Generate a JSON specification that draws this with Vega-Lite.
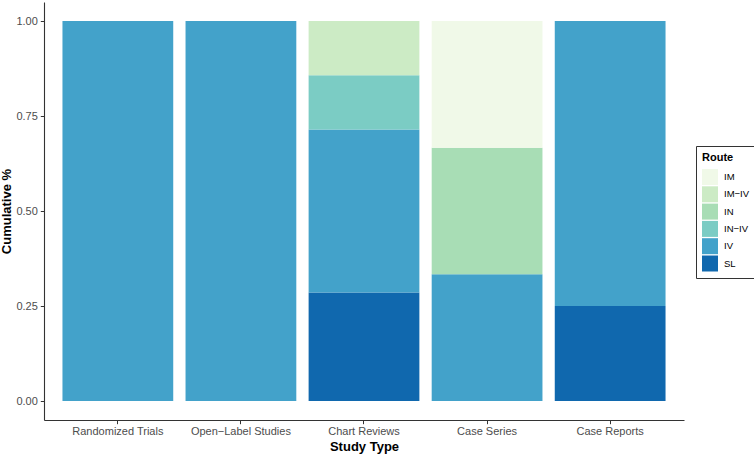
{
  "$schema": "https://vega.github.io/schema/vega-lite/v6.json",
  "autosize": {"type": "none"},
  "width": 640,
  "height": 418,
  "padding": {"left": 44, "top": 2, "right": 70, "bottom": 38},
  "config": {
    "font": "Liberation Sans",
    "view": {"stroke": null},
    "axis": {
      "grid": false,
      "domainColor": "#333333",
      "domainWidth": 1.1,
      "tickColor": "#333333",
      "tickSize": 3.7,
      "labelColor": "#4d4d4d",
      "labelFontSize": 11,
      "titleFontSize": 13,
      "titleFontWeight": "bold",
      "titleColor": "#000000"
    }
  },
  "data": {
    "values": [
      {"study": "Randomized Trials", "Route": "IV", "share": 1},
      {"study": "Open-Label Studies", "Route": "IV", "share": 1},
      {"study": "Chart Reviews", "Route": "SL", "share": 0.2857},
      {"study": "Chart Reviews", "Route": "IV", "share": 0.4286},
      {"study": "Chart Reviews", "Route": "IN-IV", "share": 0.1429},
      {"study": "Chart Reviews", "Route": "IM-IV", "share": 0.1428},
      {"study": "Case Series", "Route": "IV", "share": 0.3333},
      {"study": "Case Series", "Route": "IN", "share": 0.3333},
      {"study": "Case Series", "Route": "IM", "share": 0.3334},
      {"study": "Case Reports", "Route": "SL", "share": 0.25},
      {"study": "Case Reports", "Route": "IV", "share": 0.75}
    ]
  },
  "mark": {"type": "bar"},
  "encoding": {
    "x": {
      "field": "study",
      "type": "nominal",
      "title": "Study Type",
      "sort": ["Randomized Trials", "Open-Label Studies", "Chart Reviews", "Case Series", "Case Reports"],
      "scale": {"paddingInner": 0.1, "paddingOuter": 0.15},
      "axis": {"labelAngle": 0, "labelPadding": 2, "titlePadding": 4, "labelExpr": "replace(datum.label, '-', '\u2212')"}
    },
    "y": {
      "field": "share",
      "type": "quantitative",
      "stack": "zero",
      "title": "Cumulative %",
      "scale": {"domain": [-0.05, 1.05], "nice": false, "zero": false},
      "axis": {"values": [0, 0.25, 0.5, 0.75, 1], "format": ".2f", "labelPadding": 3, "titlePadding": 2}
    },
    "color": {
      "field": "Route",
      "type": "nominal",
      "scale": {
        "domain": ["IM", "IM-IV", "IN", "IN-IV", "IV", "SL"],
        "range": ["#f0f9e8", "#ccebc5", "#a8ddb5", "#7bccc4", "#43a2ca", "#1068ae"]
      },
      "legend": {
        "orient": "none",
        "legendX": 652,
        "legendY": 144,
        "title": "Route",
        "titleFontSize": 11,
        "titleFontWeight": "bold",
        "titleColor": "#000000",
        "titlePadding": 6,
        "labelFontSize": 9.5,
        "labelColor": "#000000",
        "labelOffset": 6,
        "labelExpr": "replace(datum.label, '-', '\u2212')",
        "symbolType": "square",
        "symbolSize": 256,
        "symbolStrokeWidth": 0,
        "symbolOpacity": 1,
        "rowPadding": 1.3,
        "padding": 6,
        "strokeColor": "#333333",
        "fillColor": "#ffffff"
      }
    },
    "order": {"field": "Route", "sort": "descending"}
  }
}
